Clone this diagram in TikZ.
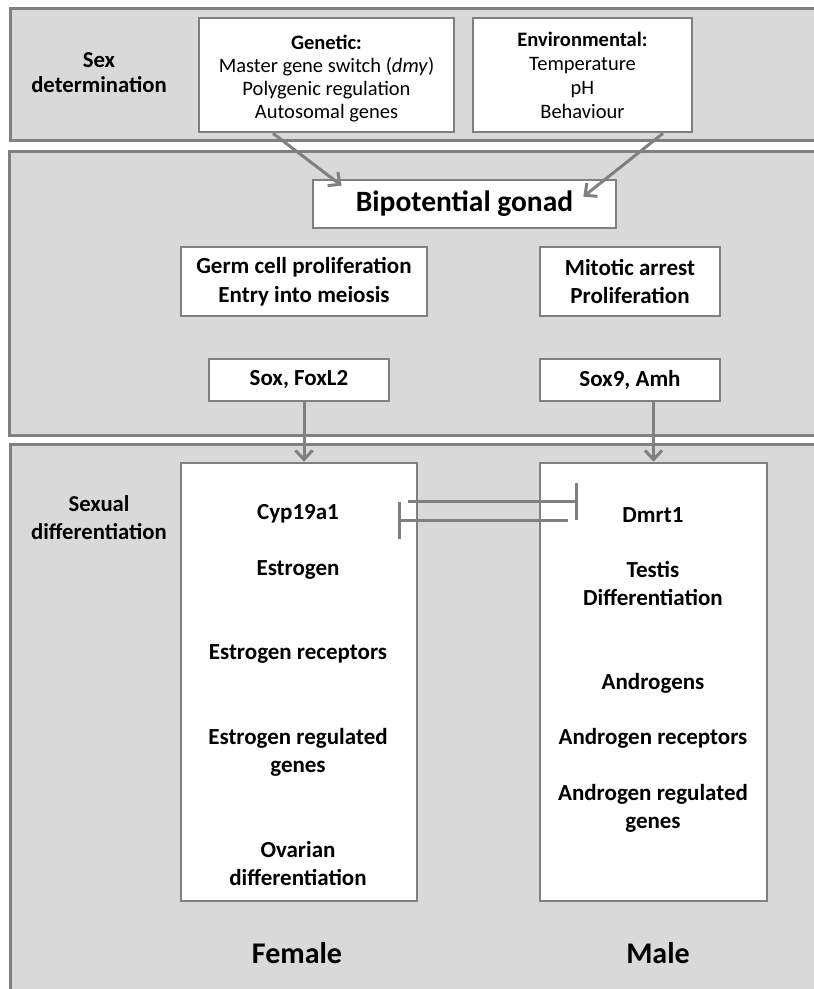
\documentclass[tikz,border=0pt]{standalone}
\usepackage{fontspec}
\setmainfont{Carlito}
\usetikzlibrary{arrows.meta,calc}
\definecolor{pfill}{RGB}{217,217,217}
\definecolor{lgray}{RGB}{128,128,128}
\begin{document}
\begin{tikzpicture}[x=1pt,y=-1pt,
  panel/.style={draw=lgray,fill=pfill,line width=3pt},
  box/.style={draw=lgray,fill=white,line width=2.7pt,inner sep=0pt,align=center,
    font=\fontsize{23}{28.5}\selectfont\bfseries},
  toptext/.style={inner sep=0pt,align=center,font=\fontsize{20.5}{23}\selectfont},
  lbl/.style={inner sep=0pt,align=center,font=\fontsize{23}{28}\selectfont\bfseries},
  big/.style={inner sep=0pt,align=center,font=\fontsize{30}{35}\selectfont\bfseries},
  arr/.style={draw=lgray,line width=3pt,-{Straight Barb[length=9pt,width=17pt]}},
  inh/.style={draw=lgray,line width=3pt,-{Bar[width=37pt]}}]
\useasboundingbox (0,0) rectangle (814,989);
\clip (0,0) rectangle (814,989);
% panels
\draw[panel] (10,8) rectangle (830,140);
\draw[panel] (9,151) rectangle (830,435);
\draw[panel] (10,444) rectangle (830,1010);
% labels on the left
\node[lbl,font=\fontsize{22.7}{25}\selectfont\bfseries] (sexdet) at (99,73) {Sex\\determination};
\node[lbl,font=\fontsize{22.7}{28}\selectfont\bfseries] (sexdiff) at (99,518) {Sexual\\differentiation};
% top boxes
\node[box,minimum width=255,minimum height=114] (gen) at (326.5,75) {};
\node[toptext] (gentext) at (326.5,79)
  {\textbf{Genetic:}\\Master gene switch (\textit{dmy})\\Polygenic regulation\\Autosomal genes};
\node[box,minimum width=219,minimum height=114] (env) at (582.5,75) {};
\node[toptext,font=\fontsize{20.5}{24}\selectfont] (envtext) at (582.5,75)
  {\textbf{Environmental:}\\Temperature\\pH\\Behaviour};
% middle panel boxes
\node[box,minimum width=303,minimum height=48,font=\fontsize{29.5}{34}\selectfont\bfseries] (bip) at (464.5,204) {Bipotential gonad};
\node[box,minimum width=246,minimum height=69] (germ) at (304,281.5) {Germ cell proliferation\\Entry into meiosis};
\node[box,minimum width=180,minimum height=69] (mit) at (630,281.5) {Mitotic arrest\\Proliferation};
\node[box,minimum width=180,minimum height=42] (sox) at (299,380) {Sox, FoxL2};
\node[box,minimum width=180,minimum height=42] (sox9) at (630,380) {Sox9, Amh};
% lower big boxes
\node[box,minimum width=236,minimum height=438] (fem) at (299,682) {};
\node[box,minimum width=227,minimum height=438] (male) at (653.5,682) {};
% female texts
\node[lbl] (cyp) at (298,514) {Cyp19a1};
\node[lbl] (est) at (298,570) {Estrogen};
\node[lbl] (estr) at (298,654) {Estrogen receptors};
\node[lbl] (estreg) at (298,752) {Estrogen regulated\\genes};
\node[lbl] (ova) at (298,864) {Ovarian\\differentiation};
% male texts
\node[lbl] (dmrt) at (653,515) {Dmrt1};
\node[lbl] (testis) at (653,583) {Testis\\Differentiation};
\node[lbl] (andr) at (653,683) {Androgens};
\node[lbl] (andrr) at (653,738) {Androgen receptors};
\node[lbl] (andrreg) at (653,808) {Androgen regulated\\genes};
% bottom labels
\node[big] (female) at (297,953) {Female};
\node[big] (malelbl) at (658,953) {Male};
% arrows
\draw[arr] ($(gen.south)+(-53.5,0)$) -- ($(bip.north west)+(30,7)$);
\draw[arr] ($(env.south)+(80.5,0)$) -- ($(bip.north east)+(-34,18)$);
\draw[arr] ($(sox.south)+(5,0)$) -- ($(fem.north)+(5,0)$);
\draw[arr] (sox9.south -| male.north) -- (male.north);
% mutual inhibition
\coordinate (i1s) at (408,501);
\coordinate (i1e) at (578,501);
\coordinate (i2s) at (568,520);
\coordinate (i2e) at (398,520);
\draw[inh] (i1s) -- (i1e);
\draw[inh] (i2s) -- (i2e);
\end{tikzpicture}
\end{document}
